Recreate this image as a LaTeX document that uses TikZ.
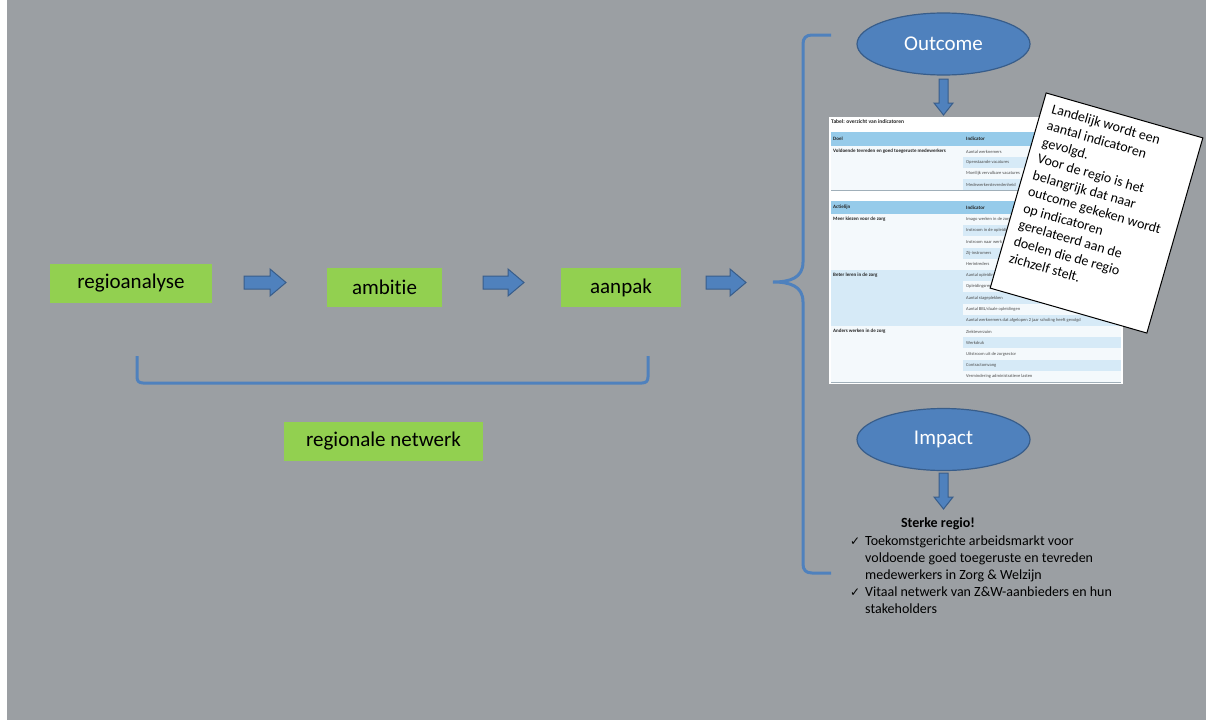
\documentclass[tikz,border=0pt]{standalone}
\usepackage{fontspec}
\setmainfont{Carlito}[Ligatures=NoCommon]
\newfontfamily\symfnt{DejaVu Sans}
\usetikzlibrary{shapes.geometric}
\definecolor{bg}{RGB}{155,159,163}
\definecolor{grn}{HTML}{92D050}
\definecolor{acc}{HTML}{4F81BD}
\definecolor{accdark}{HTML}{385D8A}
\definecolor{hdr}{RGB}{150,203,234}
\definecolor{rowb}{RGB}{214,234,247}
\definecolor{rowl}{RGB}{244,249,252}
\newcommand{\hblockarrow}[3]{%
  \filldraw[blockarrow] (#1,#3-6.5) -- (#2-16,#3-6.5) -- (#2-16,#3-13.5) -- (#2,#3) -- (#2-16,#3+13.5) -- (#2-16,#3+6.5) -- (#1,#3+6.5) -- cycle;}
\newcommand{\vblockarrow}[3]{%
  \filldraw[blockarrow] (#1-4.5,#2) -- (#1+4.5,#2) -- (#1+4.5,#3-12) -- (#1+9.5,#3-12) -- (#1,#3) -- (#1-9.5,#3-12) -- (#1-4.5,#3-12) -- cycle;}
\tikzset{
  greenbox/.style={fill=grn, inner sep=0pt, text=black, font=\fontsize{21}{25}\selectfont, minimum height=39pt},
  blockarrow/.style={fill=acc, draw=accdark, line width=1pt, line join=miter},
  oval/.style={ellipse, fill=acc, draw=accdark, line width=1.2pt, text=white, font=\fontsize{21}{25}\selectfont, minimum width=173pt, minimum height=62pt, inner sep=0pt},
  bracket/.style={draw=acc, line width=3pt},
  tcell/.style={inner sep=0pt, anchor=west, text=black!70, font=\fontsize{4.5}{5}\selectfont},
  thead/.style={inner sep=0pt, anchor=west, text=black!85, font={\fontsize{5}{6}\selectfont\bfseries}},
  notebox/.style={draw=black, line width=1pt, fill=white, minimum width=163pt, minimum height=203pt, inner sep=0pt},
  notetext/.style={anchor=north west, inner sep=0pt, align=left, text=black, font=\fontsize{14}{17.2}\selectfont},
  bodyline/.style={anchor=base west, inner sep=0pt, text=black, font=\fontsize{14}{17}\selectfont},
  checkmark/.style={anchor=base west, inner sep=0pt, text=black, font=\symfnt\fontsize{12}{14}\selectfont}
}
\begin{document}
\begin{tikzpicture}[x=1pt,y=-1pt]
\useasboundingbox (0,0) rectangle (1206,720);
\fill[white] (0,0) rectangle (1206,720);
\fill[bg] (7,0) rectangle (1206,720);

% green boxes
\node[greenbox, minimum width=162pt] (regio) at (131,283.5) {regioanalyse};
\node[greenbox, minimum width=115pt] (ambitie) at (384.5,287.5) {ambitie};
\node[greenbox, minimum width=120pt] (aanpak) at (621,287.5) {aanpak};
\node[greenbox, minimum width=199pt] (netwerk) at (383.5,441.5) {regionale netwerk};

% block arrows
\hblockarrow{244}{286}{282.5}
\hblockarrow{483}{524}{282.5}
\hblockarrow{706}{746}{282.5}

% bottom bracket
\draw[bracket] (137,356) -- (137,377) .. controls (137,381) and (139,383) .. (143,383) -- (642,383) .. controls (646,383) and (648,381) .. (648,377) -- (648,356);

% right brace
\draw[bracket] (831,35) -- (812,35) .. controls (806,35) and (803,38) .. (803,44) -- (803,262) .. controls (803,278) and (790,282) .. (773,282) .. controls (790,282) and (803,286) .. (803,302) -- (803,564) .. controls (803,570) and (806,573) .. (812,573) -- (831,573);

% ellipses
\node[oval] (outcome) at (943.5,44) {Outcome};
\node[oval] (impact) at (943.5,439.5) {Impact};
\vblockarrow{943.5}{79}{115}
\vblockarrow{943.5}{473}{509}

% table
\fill[white] (829,117) rectangle (1123,384);
\node[inner sep=0pt, anchor=west, text=black!85, font={\fontsize{5.5}{6}\selectfont\bfseries}] (ttitle) at (831,121.5) {Tabel: overzicht van indicatoren};
\fill[hdr] (831,132) rectangle (1121,146);
\node[thead] (h1a) at (833,139) {Doel};
\node[thead] (h1b) at (966,139) {Indicator};
\fill[rowl] (831,146) rectangle (963,190);
\node[thead] (doel1) at (833,151.5) {Voldoende tevreden en goed toegeruste medewerkers};
\foreach \t [count=\i] in {Aantal werknemers, Openstaande vacatures, Moeilijk vervulbare vacatures, Medewerkerstevredenheid}{
  \ifodd\i \def\cc{rowl}\else \def\cc{rowb}\fi
  \fill[\cc] (963,{146+11*(\i-1)}) rectangle (1121,{146+11*\i});
  \node[tcell] (sa\i) at (966,{151.5+11*(\i-1)}) {\t};
}
\draw[rowb!75!black, line width=0.6pt] (831,190) -- (1121,190);
\fill[hdr] (831,201) rectangle (1121,214);
\node[thead] (h2a) at (833,207.5) {Actielijn};
\node[thead] (h2b) at (966,207.5) {Indicator};
\fill[rowl] (831,214) rectangle (963,270);
\fill[rowb] (831,270) rectangle (963,326);
\fill[rowl] (831,326) rectangle (963,382);
\node[thead] (al1) at (833,219.5) {Meer kiezen voor de zorg};
\node[thead] (al2) at (833,275.5) {Beter leren in de zorg};
\node[thead] (al3) at (833,331.5) {Anders werken in de zorg};
\foreach \t [count=\i] in {Imago werken in de zorg, Instroom in de opleiding, Instroom naar werk, Zij-instromers, Herintreders, Aantal opleidingsplaatsen, Opleidingsrendement, Aantal stageplekken, {Aantal BBL/duale opleidingen}, Aantal werknemers dat afgelopen 2 jaar scholing heeft gevolgd, Ziekteverzuim, Werkdruk, Uitstroom uit de zorgsector, Contractomvang, Vermindering administratieve lasten}{
  \ifodd\i \def\cc{rowl}\else \def\cc{rowb}\fi
  \fill[\cc] (963,{214+11.2*(\i-1)}) rectangle (1121,{214+11.2*\i});
  \node[tcell] (sb\i) at (966,{219.6+11.2*(\i-1)}) {\t};
}
\draw[rowb!75!black, line width=0.6pt] (831,382) -- (1121,382);

% note
\begin{scope}[shift={(1096.5,213)}, rotate=-16, transform shape]
  \node[notebox] (note) at (0,0) {};
  \node[notetext] (notetxt) at (-71.5,-93.3) {Landelijk wordt een\\aantal indicatoren\\gevolgd.\\Voor de regio is het\\belangrijk dat naar\\outcome gekeken wordt\\op indicatoren\\gerelateerd aan de\\doelen die de regio\\zichzelf stelt.};
\end{scope}

% impact text
\node[anchor=base, inner sep=0pt, font={\fontsize{14}{17}\selectfont\bfseries}] (sterk) at (938,527) {Sterke regio!};
\node[checkmark] (c1) at (850,545) {✓};
\node[bodyline] (b1) at (865,545) {Toekomstgerichte arbeidsmarkt voor};
\node[bodyline] (b2) at (865,562) {voldoende goed toegeruste en tevreden};
\node[bodyline] (b3) at (865,579) {medewerkers in Zorg \& Welzijn};
\node[checkmark] (c2) at (850,596) {✓};
\node[bodyline] (b4) at (865,596) {Vitaal netwerk van Z\&W-aanbieders en hun};
\node[bodyline] (b5) at (865,613) {stakeholders};
\end{tikzpicture}
\end{document}
